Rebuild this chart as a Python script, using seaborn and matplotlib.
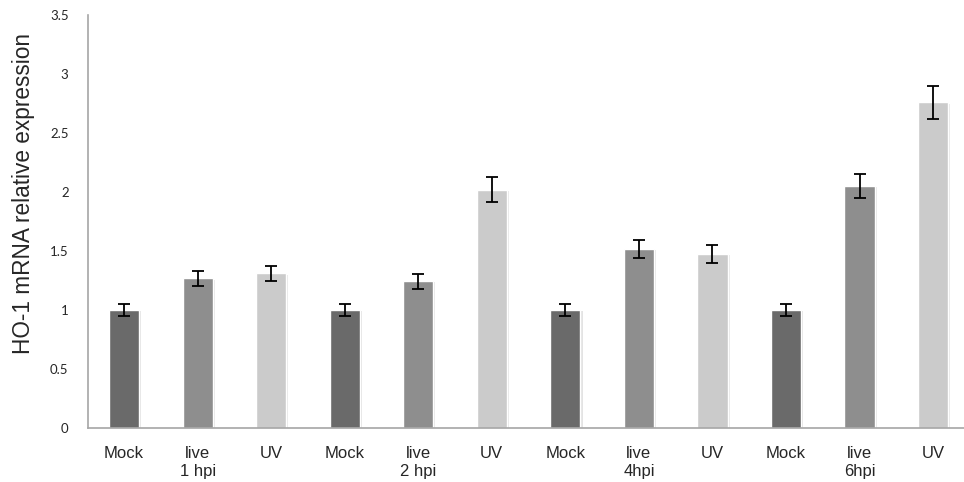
import matplotlib.patheffects as pe
import matplotlib.pyplot as plt
import numpy as np
import pandas as pd
import seaborn as sns

# %% data
labels = ["Mock", "live\n1 hpi", "UV",
          "Mock", "live\n2 hpi", "UV",
          "Mock", "live\n4hpi", "UV",
          "Mock", "live\n6hpi", "UV"]
treatment = ["Mock", "live", "UV"] * 4
expression = [1.00, 1.27, 1.31, 1.00, 1.245, 2.02, 1.00, 1.52, 1.475, 1.00, 2.05, 2.76]
error = [0.05, 0.063, 0.062, 0.05, 0.063, 0.105, 0.05, 0.077, 0.077, 0.05, 0.1, 0.14]
ytick_labels = ["0", "0.5", "1", "1.5", "2", "2.5", "3", "3.5"]

colors = {"Mock": "#6a6a6a", "live": "#8e8e8e", "UV": "#cbcbcb"}

df = pd.DataFrame({
    "bar": [f"b{i}" for i in range(len(labels))],
    "treatment": treatment,
    "expression": expression,
    "error": error,
})

# %% plot
sns.set_style("white")
plt.rcParams["font.family"] = ["Liberation Sans", "DejaVu Sans"]

fig = plt.figure(figsize=(9.64, 4.82), dpi=100)
ax = fig.add_axes([0.0913, 0.112, 0.9087, 0.857])

sns.barplot(data=df, x="bar", y="expression", hue="treatment", palette=colors,
            dodge=False, errorbar=None, width=0.41, legend=False, ax=ax,
            saturation=1)
# faint drop shadow like the original
for bar in ax.patches:
    bar.set_path_effects([pe.SimplePatchShadow(offset=(1.5, -1), alpha=0.12), pe.Normal()])

ax.errorbar(np.arange(len(df)), df["expression"], yerr=df["error"], fmt="none",
            ecolor="black", elinewidth=1.3, capsize=4, capthick=1.3)

ax.set_ylim(0, 3.5)
ax.set_xlim(-0.49, 11.42)
ax.set_yticks(np.arange(0, 3.51, 0.5))
ax.set_yticklabels(ytick_labels, fontsize=9.5, family=["Lato", "DejaVu Sans"])
ax.set_xticks(range(len(labels)))
ax.set_xticklabels(labels, fontsize=12, linespacing=1.25, va="top")
ax.set_xlabel("")
ax.set_ylabel("HO-1 mRNA relative expression", fontsize=16.3)
ax.yaxis.set_label_coords(-0.061, 0.567)

for side in ["top", "right"]:
    ax.spines[side].set_visible(False)
for side in ["left", "bottom"]:
    ax.spines[side].set_color("#a6a6a6")
    ax.spines[side].set_linewidth(1.2)
ax.tick_params(axis="y", length=5, color="#a6a6a6", width=1, pad=9)
ax.tick_params(axis="x", length=0, pad=13)

fig.savefig("out.png", dpi=100)
